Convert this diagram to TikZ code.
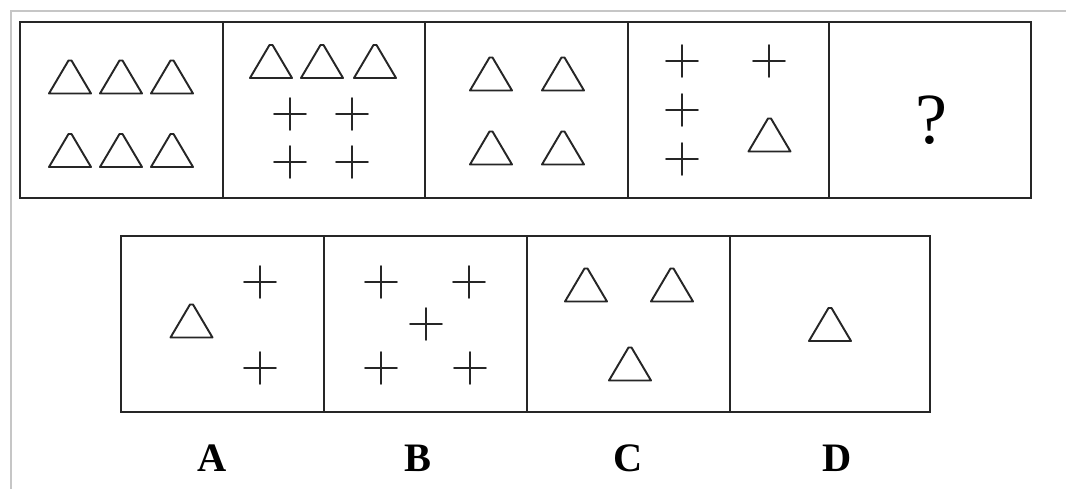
\documentclass[tikz,border=0pt]{standalone}
\usepackage{fontspec}
\setmainfont{Liberation Serif}
\tikzset{
  frame/.style={line width=1.1pt, black!85},
  figline/.style={line width=1.1pt, black!85, line join=round, line cap=round},
  lbl/.style={font=\fontsize{23}{26}\selectfont\bfseries, inner sep=0pt},
  tri/.pic={\draw[figline] (-21,17) -- (-1.5,-16) -- (1.5,-16) -- (21,17) -- cycle;},
  crs/.pic={\draw[figline] (-16,0) -- (16,0) (0,-16) -- (0,16);}
}
\begin{document}
\begin{tikzpicture}[x=0.02cm, y=-0.02cm]
  \useasboundingbox (0,0) rectangle (1066,489);
  % Screenshot border
  \draw[gray!45, line width=1.5pt] (11,489) -- (11,11) -- (1066,11);
  % Top row
  \draw[frame] (20,22) rectangle (1031,198);
  \foreach \x in {223,425,628,829}
    \draw[frame] (\x,22) -- (\x,198);
  % Bottom row
  \draw[frame] (121,236) rectangle (930,412);
  \foreach \x in {324,527,730}
    \draw[frame] (\x,236) -- (\x,412);
  % Box 1
  \foreach \x in {70,121,172}
    {\pic at (\x,76.5) {tri}; \pic at (\x,150) {tri};}
  % Box 2
  \foreach \x in {271,322,375}
    \pic at (\x,61) {tri};
  \foreach \x/\y in {290/114,352/114,290/162,352/162}
    \pic at (\x,\y) {crs};
  % Box 3
  \foreach \x/\y in {491/73.5,563/73.5,491/147.5,563/147.5}
    \pic at (\x,\y) {tri};
  % Box 4
  \foreach \x/\y in {682/61,682/110,682/159,769/61}
    \pic at (\x,\y) {crs};
  \pic at (769.5,134.5) {tri};
  % Box 5
  \node[font=\fontsize{41}{46}\selectfont, inner sep=0pt] (qmark) at (931,120) {?};
  % Option A
  \pic at (191.5,320.5) {tri};
  \foreach \y in {282,368}
    \pic at (260,\y) {crs};
  % Option B
  \foreach \x/\y in {381/282,469/282,426/324,381/368,470/368}
    \pic at (\x,\y) {crs};
  % Option C
  \foreach \x/\y in {586/284.5,672/284.5,630/363.5}
    \pic at (\x,\y) {tri};
  % Option D
  \pic at (830,324) {tri};
  % Labels
  \node[lbl] (lblA) at (212,458) {A};
  \node[lbl] (lblB) at (418,458) {B};
  \node[lbl] (lblC) at (628,458) {C};
  \node[lbl] (lblD) at (837,458) {D};
\end{tikzpicture}
\end{document}
